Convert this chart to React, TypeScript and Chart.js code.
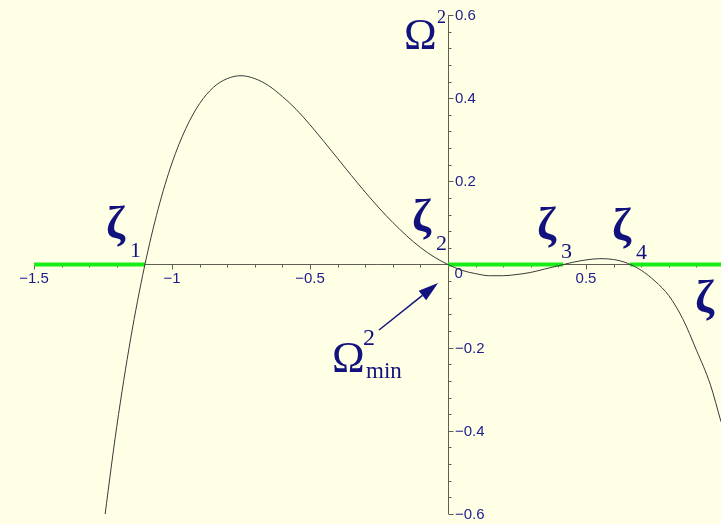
import React, { useEffect, useRef } from 'react';
import { Chart, registerables } from 'chart.js';

Chart.register(...registerables);

// Ω²(ζ) sampled along ζ
const curveX = [
  -1.25, -1.2, -1.15, -1.1, -1.05, -1.0, -0.95, -0.9, -0.85, -0.8, -0.75, -0.7, -0.65, -0.6,
  -0.55, -0.5, -0.45, -0.4, -0.35, -0.3, -0.25, -0.2, -0.15, -0.1, -0.05, 0, 0.05, 0.1, 0.15,
  0.2, 0.25, 0.3, 0.35, 0.4, 0.45, 0.5, 0.55, 0.6, 0.65, 0.7, 0.75, 0.8, 0.85, 0.9, 0.95, 0.989,
];
const curveY = [
  -0.639, -0.389, -0.179, -0.006, 0.134, 0.244, 0.327, 0.387, 0.426, 0.447, 0.454, 0.447, 0.43,
  0.404, 0.373, 0.336, 0.296, 0.255, 0.214, 0.174, 0.136, 0.101, 0.069, 0.041, 0.018, 0, -0.014,
  -0.022, -0.027, -0.027, -0.024, -0.019, -0.011, -0.003, 0.005, 0.011, 0.014, 0.012, 0.003,
  -0.014, -0.04, -0.075, -0.13, -0.206, -0.288, -0.378,
];

// roots ζ1..ζ4 and the intervals where Ω² ≤ 0
const zetaRoots = [-1.098, 0, 0.417, 0.659];
const greenStart = [-1.5, 0, 0.659];
const greenEnd = [-1.098, 0.417, 0.989];

const xRange = [-1.5, 0.989];
const yRange = [-0.6, 0.6];
const xMajorTicks = [-1.5, -1, -0.5, 0, 0.5];
const xTickLabels = ['−1.5', '−1', '−0.5', '0', '0.5'];
const xMinorStep = 0.1;
const yMajorTicks = [-0.6, -0.4, -0.2, 0.2, 0.4, 0.6];
const yTickLabels = ['−0.6', '−0.4', '−0.2', '0.2', '0.4', '0.6'];
const yMinorStep = 0.04;

const BG = '#FFFFE6';
const INK = '#12127e';
const TICK_INK = '#1c1c8e';
const AXIS = '#5e5e52';
const GREEN = '#17ee17';
const SERIF = '"Liberation Serif", "Times New Roman", serif';
const SANS = '"Liberation Sans", Arial, sans-serif';

const backgroundPlugin = {
  id: 'paperBackground',
  beforeDraw(chart: any) {
    const { ctx, width, height } = chart;
    ctx.save();
    ctx.fillStyle = BG;
    ctx.fillRect(0, 0, width, height);
    ctx.restore();
  },
};

const crossAxesPlugin = {
  id: 'crossAxes',
  beforeDatasetsDraw(chart: any) {
    const { ctx } = chart;
    const xs = chart.scales.x;
    const ys = chart.scales.y;
    const x0 = Math.floor(xs.getPixelForValue(0)) + 0.5;
    const y0 = ys.getPixelForValue(0);
    const yTop = ys.getPixelForValue(yRange[1]);
    const yBot = ys.getPixelForValue(yRange[0]);
    const xLeft = xs.getPixelForValue(xRange[0]);
    const xRight = xs.getPixelForValue(xRange[1]);
    ctx.save();
    ctx.strokeStyle = AXIS;
    ctx.lineWidth = 1;
    ctx.beginPath();
    ctx.moveTo(xLeft, y0);
    ctx.lineTo(xRight, y0);
    ctx.moveTo(x0, yTop);
    ctx.lineTo(x0, yBot);
    // x ticks point down
    for (let v = xRange[0]; v <= xRange[1] + 1e-9; v += xMinorStep) {
      const vv = Math.round(v * 1000) / 1000;
      if (Math.abs(vv) < 1e-9) continue;
      const major = xMajorTicks.some((m) => Math.abs(m - vv) < 1e-6);
      const px = Math.round(xs.getPixelForValue(vv)) + 0.5;
      ctx.moveTo(px, y0);
      ctx.lineTo(px, y0 + (major ? 5 : 3));
    }
    // y ticks point right
    for (let v = yRange[0]; v <= yRange[1] + 1e-9; v += yMinorStep) {
      const vv = Math.round(v * 1000) / 1000;
      if (Math.abs(vv) < 1e-9) continue;
      const major = yMajorTicks.some((m) => Math.abs(m - vv) < 1e-6);
      const py = Math.round(ys.getPixelForValue(vv)) + 0.5;
      ctx.moveTo(x0, py);
      ctx.lineTo(x0 + (major ? 5 : 3), py);
    }
    ctx.stroke();

    ctx.fillStyle = TICK_INK;
    ctx.font = `15px ${SANS}`;
    ctx.textBaseline = 'alphabetic';
    xMajorTicks.forEach((v, i) => {
      if (v === 0) {
        ctx.textAlign = 'left';
        ctx.fillText(xTickLabels[i], x0 + 6, y0 + 13);
      } else {
        ctx.textAlign = 'center';
        ctx.fillText(xTickLabels[i], xs.getPixelForValue(v), y0 + 18);
      }
    });
    ctx.textAlign = 'left';
    ctx.textBaseline = 'middle';
    yMajorTicks.forEach((v, i) => {
      ctx.fillText(yTickLabels[i], x0 + 6.5, ys.getPixelForValue(v) + 1);
    });
    ctx.restore();
  },
};

const labelPlugin = {
  id: 'mathLabels',
  afterDatasetsDraw(chart: any) {
    const { ctx } = chart;
    const xs = chart.scales.x;
    const ys = chart.scales.y;
    const put = (t: string, x: number, y: number, size: number, weight = 'normal') => {
      ctx.font = `${weight} ${size}px ${SERIF}`;
      ctx.fillText(t, x, y);
    };
    ctx.save();
    ctx.fillStyle = INK;
    ctx.strokeStyle = INK;
    ctx.textAlign = 'left';
    ctx.textBaseline = 'alphabetic';

    // ordinate title Ω²
    put('Ω', 404, 49, 44);
    put('2', 437, 23, 18);

    // roots ζ1..ζ4, each label sits just left-above its root
    const subs = ['1', '2', '3', '4'];
    const zetaOffsets = [
      [-39, -27],
      [-36, -34],
      [-26, -26],
      [-18, -25],
    ];
    zetaRoots.forEach((r, i) => {
      const px = xs.getPixelForValue(r);
      const py = ys.getPixelForValue(0);
      const lx = px + zetaOffsets[i][0];
      const ly = py + zetaOffsets[i][1];
      put('ζ', lx, ly, 46, 'bold');
      put(subs[i], lx + 24, ly + 19, 22);
    });

    // abscissa title ζ
    put('ζ', 695, 312, 46, 'bold');

    // arrow to the minimum value
    const tailX = xs.getPixelForValue(-0.25);
    const tailY = ys.getPixelForValue(-0.1575);
    const tipX = xs.getPixelForValue(-0.036);
    const tipY = ys.getPixelForValue(-0.0445);
    const ang = Math.atan2(tipY - tailY, tipX - tailX);
    const headLen = 20;
    const headHalf = 6;
    const bx = tipX - headLen * Math.cos(ang);
    const by = tipY - headLen * Math.sin(ang);
    ctx.lineWidth = 1.5;
    ctx.beginPath();
    ctx.moveTo(tailX, tailY);
    ctx.lineTo(bx, by);
    ctx.stroke();
    ctx.beginPath();
    ctx.moveTo(tipX, tipY);
    ctx.lineTo(bx - headHalf * Math.sin(ang), by + headHalf * Math.cos(ang));
    ctx.lineTo(bx + headHalf * Math.sin(ang), by - headHalf * Math.cos(ang));
    ctx.closePath();
    ctx.fill();

    // Ω²_min
    put('Ω', 332, 372, 44);
    put('2', 363, 345, 24);
    put('min', 366, 378, 23);
    ctx.restore();
  },
};

export default function App() {
  const canvasRef = useRef<HTMLCanvasElement>(null);

  useEffect(() => {
    const canvas = canvasRef.current;
    if (!canvas) return;
    const curve = curveX.map((x, i) => ({ x, y: curveY[i] }));
    const greenSets = greenStart.map((s, i) => ({
      data: [
        { x: s, y: 0 },
        { x: greenEnd[i], y: 0 },
      ],
      borderColor: GREEN,
      borderWidth: 4,
      pointRadius: 0,
      tension: 0,
      borderCapStyle: 'butt' as const,
    }));
    const chart = new Chart(canvas, {
      type: 'line',
      data: {
        datasets: [
          {
            data: curve,
            borderColor: '#3a3a3a',
            borderWidth: 1,
            pointRadius: 0,
            cubicInterpolationMode: 'monotone',
          },
          ...greenSets,
        ],
      },
      options: {
        animation: false,
        responsive: false,
        maintainAspectRatio: false,
        layout: { padding: { left: 34, right: 0, top: 15, bottom: 10 } },
        plugins: {
          legend: { display: false },
          tooltip: { enabled: false },
          title: { display: false },
        },
        scales: {
          x: { type: 'linear', min: xRange[0], max: xRange[1], display: false },
          y: { type: 'linear', min: yRange[0], max: yRange[1], display: false },
        },
      },
      plugins: [backgroundPlugin, crossAxesPlugin, labelPlugin],
    });
    return () => chart.destroy();
  }, []);

  return (
    <div style={{ position: 'absolute', left: 0, top: 0, width: 721, height: 524, background: BG }}>
      <canvas ref={canvasRef} width={721} height={524} style={{ display: 'block', width: 721, height: 524 }} />
    </div>
  );
}
